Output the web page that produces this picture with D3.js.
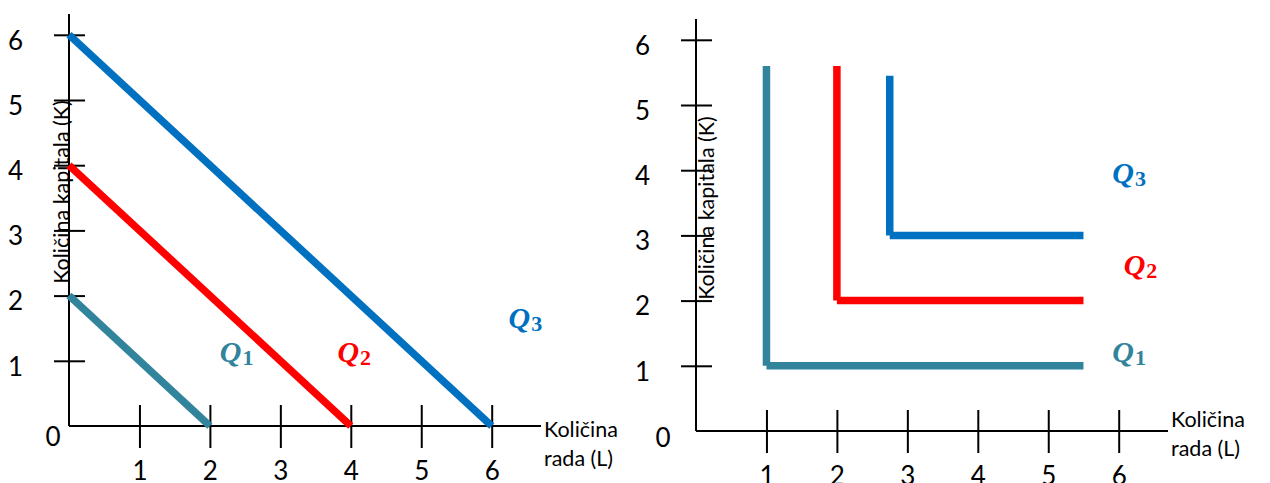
<!doctype html>
<html lang="hr">
<head>
<meta charset="utf-8">
<title>Izokvante</title>
<script src="https://cdnjs.cloudflare.com/ajax/libs/d3/7.8.5/d3.min.js"></script>
<style>
	body { margin: 0; background: #fff; }
	text { font-family: Lato, "Open Sans", sans-serif; fill: #000; }
	.q { font-family: "Liberation Serif", serif; font-weight: bold; font-style: italic; }
</style>
</head>
<body>
<div id="chart"></div>
<script>
/* data */
var quantities = ['1', '2', '3'];
var colors = ['#31849B', '#FF0000', '#0070C0'];
var xTicks = [1, 2, 3, 4, 5, 6];
var yTicks = [1, 2, 3, 4, 5, 6];

// left: perfect substitutes, intercepts on both axes
var linearK = [2, 4, 6];

// right: perfect complements (L-shaped)
var leontiefL = [1, 2, 2.75];
var leontiefK = [1, 2, 3];
var leontiefTop = [5.6, 5.6, 5.45];
var leontiefEnd = [5.5, 5.5, 5.5];

// label anchors in data units
var leftLabelL = [2.14, 3.81, 6.24];
var leftLabelK = [0.98, 0.98, 1.5];
var rightLabelL = [5.91, 6.07, 5.91];
var rightLabelK = [1.06, 2.39, 3.8];

/* view */
var size = { width: 1270, height: 483 };
var svg = d3.select('#chart').append('svg')
	.attr('width', size.width)
	.attr('height', size.height);

function drawFrame(opts){
	var x = d3.scaleLinear().domain([0, 6]).range([opts.x0, opts.x0 + 6 * 70.45]);
	var y = d3.scaleLinear().domain([0, 6]).range([opts.y0, opts.y0 - 6 * 65.2]);
	var g = svg.append('g');

	// axis lines
	g.append('line')
		.attr('x1', x(0)).attr('x2', x(6.7))
		.attr('y1', y(0)).attr('y2', y(0))
		.style('stroke', '#000').style('stroke-width', 2);
	g.append('line')
		.attr('x1', x(0)).attr('x2', x(0))
		.attr('y1', y(0)).attr('y2', y(6.32))
		.style('stroke', '#000').style('stroke-width', 2);

	var xa = g.append('g')
		.attr('transform', 'translate(0,' + y(0) + ')')
		.call(d3.axisBottom(x).tickValues(xTicks).tickFormat(d3.format('d')).tickSize(22).tickPadding(14));
	xa.select('.domain').remove();
	xa.selectAll('.tick line').attr('y1', -21).style('stroke', '#000').style('stroke-width', 2);
	xa.selectAll('.tick text').style('font-size', '26px').style('font-family', null);

	var ya = g.append('g')
		.attr('transform', 'translate(' + x(0) + ',0)')
		.call(d3.axisLeft(y).tickValues(yTicks).tickFormat(d3.format('d')).tickSize(15).tickPadding(31));
	ya.select('.domain').remove();
	ya.selectAll('.tick line').attr('x1', 16).style('stroke', '#000').style('stroke-width', 2);
	ya.selectAll('.tick text').attr('dy', '0.55em').style('font-size', '26px').style('font-family', null);

	g.append('text')
		.attr('x', x(0) + opts.zeroDx).attr('y', y(0) + opts.zeroDy)
		.attr('text-anchor', 'middle')
		.style('font-size', '26px')
		.text('0');

	g.append('text')
		.attr('transform', 'translate(' + (x(0) + opts.yLabelDx) + ',' + opts.yLabelY + ') rotate(-90)')
		.attr('text-anchor', 'middle')
		.style('font-size', '21.5px')
		.text('Količina kapitala (K)');

	var xl = g.append('text')
		.attr('x', x(6.7) + 3).attr('y', y(0) + opts.xLabelDy)
		.style('font-size', '21.5px');
	xl.append('tspan').attr('x', x(6.7) + 3).text('Količina');
	xl.append('tspan').attr('x', x(6.7) + 3).attr('dy', 29).text('rada (L)');

	return { g: g, x: x, y: y };
}

function qLabel(f, i, lx, ly){
	var t = f.g.append('text')
		.attr('class', 'q')
		.attr('x', f.x(lx)).attr('y', f.y(ly))
		.style('fill', colors[i])
		.style('font-size', '30px');
	t.append('tspan').style('fill', colors[i]).text('Q');
	t.append('tspan').style('fill', colors[i])
		.style('font-size', '22px').style('font-style', 'normal')
		.attr('dx', 1).attr('dy', 3).text(quantities[i]);
}

/* left chart */
var left = drawFrame({ x0: 69, y0: 426, zeroDx: -16, zeroDy: 20, yLabelDx: -0.5, yLabelY: 192, xLabelDy: 11 });
var line = d3.line().x(function(d){ return left.x(d[0]); }).y(function(d){ return left.y(d[1]); });
linearK.forEach(function(k, i){
	left.g.append('path')
		.attr('d', line([[0, k], [k, 0]]))
		.style('fill', 'none')
		.style('stroke', colors[i])
		.style('stroke-width', 7.5);
	qLabel(left, i, leftLabelL[i], leftLabelK[i]);
});

/* right chart */
var right = drawFrame({ x0: 696, y0: 431, zeroDx: -33, zeroDy: 16, yLabelDx: 17.5, yLabelY: 208, xLabelDy: -4 });
leontiefL.forEach(function(l, i){
	var k = leontiefK[i];
	right.g.append('line')
		.attr('x1', right.x(l)).attr('x2', right.x(l))
		.attr('y1', right.y(leontiefTop[i])).attr('y2', right.y(k))
		.style('stroke', colors[i]).style('stroke-width', 7.5);
	right.g.append('line')
		.attr('x1', right.x(l)).attr('x2', right.x(leontiefEnd[i]))
		.attr('y1', right.y(k)).attr('y2', right.y(k))
		.style('stroke', colors[i]).style('stroke-width', 7.5);
	qLabel(right, i, rightLabelL[i], rightLabelK[i]);
});
</script>
</body>
</html>
